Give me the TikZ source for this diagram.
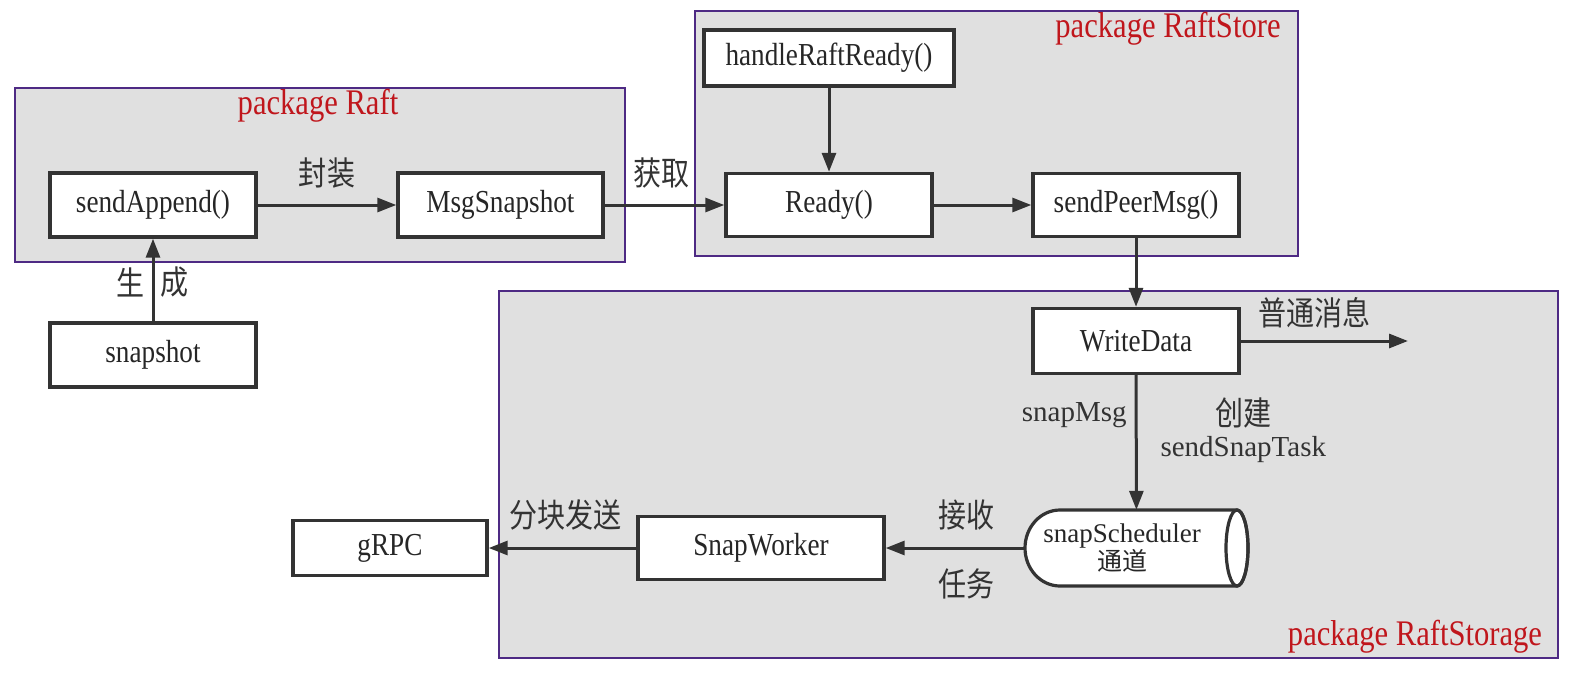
\documentclass[tikz,border=0pt]{standalone}
\usepackage{fontspec}
\setmainfont{Liberation Serif}
\newfontfamily\narrowfont[FakeStretch=0.85]{Liberation Serif}
\newfontfamily\cjk[FakeStretch=0.85]{Noto Sans CJK SC}
\newfontfamily\cjkplain{Noto Sans CJK SC}
\usetikzlibrary{arrows.meta}
\definecolor{pkgfill}{HTML}{E0E0E0}
\definecolor{pkgline}{HTML}{4E2A84}
\definecolor{pkgtitle}{HTML}{C0161C}
\definecolor{ink}{HTML}{333333}

\begin{document}
\begin{tikzpicture}[x=1pt,y=-1pt]

    \tikzset{boxstyle/.style={draw=ink,line width=3.4pt,fill=white,shape=rectangle,inner sep=0pt,minimum width=206pt,minimum height=64pt,text=black!85,font=\narrowfont\fontsize{32}{36}\selectfont},
      pkgstyle/.style={draw=pkgline,line width=1.5pt,fill=pkgfill},
      titlestyle/.style={text=pkgtitle,inner sep=0pt,font=\narrowfont\fontsize{36}{40}\selectfont},
      lblstyle/.style={text=ink,inner sep=0pt,font=\cjk\fontsize{33}{36}\selectfont},
      codestyle/.style={text=ink,inner sep=0pt,font=\fontsize{29}{32}\selectfont}}
    \useasboundingbox (0,0) rectangle (1582,672);

    \draw[pkgstyle] (15,88) rectangle (625,262);
    \draw[pkgstyle] (695,11) rectangle (1298,256);
    \draw[pkgstyle] (499,291) rectangle (1558,658);
    \node[titlestyle] (tRaft) at (318,106) {package Raft};
    \node[titlestyle] (tStore) at (1168,29) {package RaftStore};
    \node[titlestyle] (tStorage) at (1415,637) {package RaftStorage};

    \node[boxstyle] (pApp) at (153,205) {sendAppend()};
    \node[boxstyle,minimum width=205pt] (pMsg) at (500.5,205) {MsgSnapshot};
    \node[boxstyle] (pSnap) at (153,355) {snapshot};
    \node[boxstyle,minimum width=250pt,minimum height=56pt] (pHandle) at (829,58) {handleRaftReady()};
    \node[boxstyle,minimum height=63pt] (pReady) at (829,205) {Ready()};
    \node[boxstyle,minimum height=63pt] (pPeer) at (1136,205) {sendPeerMsg()};
    \node[boxstyle,minimum height=65pt] (pWrite) at (1136,341) {WriteData};
    \node[boxstyle,minimum width=246pt,minimum height=63pt] (pWorker) at (761,548) {SnapWorker};
    \node[boxstyle,minimum width=194pt,minimum height=55pt] (pGrpc) at (390,548) {gRPC};
    \coordinate (pOut) at (1408,341);

    \draw[draw=ink,line width=3.2pt,fill=white] (1237,510) -- (1060,510)
      .. controls (1040.7,510) and (1025,527) .. (1025,548)
      .. controls (1025,569) and (1040.7,586) .. (1060,586) -- (1237,586)
      .. controls (1243.1,586) and (1248,569) .. (1248,548)
      .. controls (1248,527) and (1243.1,510) .. (1237,510);
    \draw[draw=ink,line width=3.2pt] (1237,548) ellipse [x radius=11,y radius=38];
    \node[minimum width=223pt,minimum height=76pt,inner sep=0pt] (pChan) at (1136.5,548) {};
    \node[align=center,inner sep=0pt,text=black!85,font=\fontsize{27}{30}\selectfont] (pChanText) at (1122,548) {snapScheduler\\[-2pt]{\cjkplain\fontsize{25}{28}\selectfont 通道}};

    \begin{scope}[every path/.style={-{Triangle[length=19pt,width=14pt]},draw=ink,line width=3pt}]
        \draw (pApp) -- (pMsg) node[lblstyle,midway,yshift=32pt]{封装};
        \draw (pMsg.east) -- (pReady.west) node[lblstyle,midway,xshift=-3pt,yshift=32pt]{获取};
        \draw (pSnap) -- (pApp) node[lblstyle,midway,xshift=-22pt,yshift=-2pt]{生} node[lblstyle,midway,xshift=22pt,yshift=-2pt]{成};
        \draw (pHandle) -- (pReady);
        \draw (pReady) -- (pPeer);
        \draw (pPeer) -- (pWrite);
        \draw (pWrite) -- (pOut) node[lblstyle,midway,xshift=-10pt,yshift=28pt]{普通消息};
        \draw (pWrite) -- (pChan) node[codestyle,midway,xshift=-62pt,yshift=27pt]{snapMsg}
          node[lblstyle,midway,xshift=107pt,yshift=30pt]{创建}
          node[codestyle,midway,xshift=107pt,yshift=-7pt]{sendSnapTask};
        \draw (pChan) -- (pWorker) node[lblstyle,midway,xshift=11pt,yshift=33pt]{接收}
          node[lblstyle,midway,xshift=11pt,yshift=-36pt]{任务};
        \draw (pWorker) -- (pGrpc) node[lblstyle,midway,xshift=3pt,yshift=33pt]{分块发送};
    \end{scope}
\end{tikzpicture}
\end{document}
